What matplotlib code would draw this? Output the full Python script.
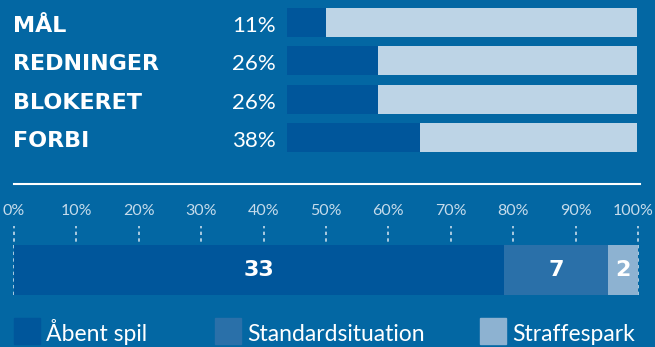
import matplotlib
matplotlib.use("Agg")
import matplotlib.pyplot as plt
import matplotlib.transforms as mtransforms
from matplotlib.patches import Rectangle

# Shot outcomes (share of shots, %)
outcomes = ["MÅL", "REDNINGER", "BLOKERET", "FORBI"]
outcome_pct = [11, 26, 26, 38]

# Goals by situation type
situations = ["Åbent spil", "Standardsituation", "Straffespark"]
situation_counts = [33, 7, 2]
axis_ticks = [0, 10, 20, 30, 40, 50, 60, 70, 80, 90, 100]

BG = "#0367a3"
DARK = "#00569b"
LIGHT = "#bdd4e6"
MID = "#2a70a9"
PALE = "#8db2d1"
TICK_TXT = "#c5dbeb"

W, H = 655, 347
fig = plt.figure(figsize=(W / 100, H / 100), dpi=100, facecolor=BG)


def fig_rect(x0, y0, x1, y1):
    """Pixel box (top-left origin) -> figure fraction rect."""
    return [x0 / W, 1 - y1 / H, (x1 - x0) / W, (y1 - y0) / H]


# ---- top: outcome bars ----
ax1 = fig.add_axes(fig_rect(287, 8, 637, 152))
ax1.set_facecolor("none")
ypos = list(range(len(outcomes)))
ax1.barh(ypos, [100] * len(outcomes), height=0.755, color=LIGHT, edgecolor="none")
ax1.barh(ypos, outcome_pct, height=0.755, color=DARK, edgecolor="none")
ax1.set_xlim(0, 100)
ax1.set_ylim(3.3775, -0.3775)
ax1.axis("off")

# labels sit on a baseline slightly below each bar's centre
blend = mtransforms.blended_transform_factory(fig.transFigure, ax1.transData)
for y, name, pct in zip(ypos, outcomes, outcome_pct):
    ax1.text(13 / W, y + 0.25, name, transform=blend, ha="left", va="baseline",
             color="white", fontsize=16, fontweight="bold",
             family=["DejaVu Sans"])
    ax1.text(276 / W, y + 0.25, f"{pct}%", transform=blend, ha="right", va="baseline",
             color="white", fontsize=16, fontweight="normal",
             family=["Lato", "DejaVu Sans"])

# separator line
fig.add_artist(plt.Line2D([14 / W, 640 / W], [1 - 184 / H, 1 - 184 / H],
                          transform=fig.transFigure, color="white", lw=1.5))

# ---- bottom: stacked share bar ----
ax2 = fig.add_axes(fig_rect(14, 226, 638, 295))
ax2.set_facecolor("none")
total = sum(situation_counts)
shares = [c / total * 100 for c in situation_counts]
colors = [DARK, MID, PALE]
ax2.set_xlim(0, 100)
ax2.set_ylim(0, 1.38)
for t in axis_ticks:
    ax2.plot([t, t], [0, 1.38], color=TICK_TXT, lw=1.2, ls=(0, (2, 2)),
             zorder=1, clip_on=False)
left = 0
for share, count, col in zip(shares, situation_counts, colors):
    ax2.barh(0.5, share, left=left, height=1.0, color=col, edgecolor="none", zorder=2)
    ax2.text(left + share / 2, 0.5, str(count), ha="center", va="center",
             color="white", fontsize=16, fontweight="bold",
             family=["DejaVu Sans"], zorder=3)
    left += share
ax2.axis("off")

tick_blend = mtransforms.blended_transform_factory(ax2.transData, fig.transFigure)
for t in axis_ticks:
    ha = "center" if t < 100 else "right"
    xpos = t if t < 100 else 100 + 16 / 624 * 100
    ax2.text(xpos, 1 - 211 / H, f"{t}%", transform=tick_blend, ha=ha, va="center",
             color=TICK_TXT, fontsize=11.5, family=["Lato", "DejaVu Sans"],
             clip_on=False)

# ---- legend ----
legend_x = [14, 215, 480]
for x, name, col in zip(legend_x, situations, colors):
    fig.add_artist(Rectangle((x / W, 1 - 344 / H), 26 / W, 26 / H,
                             transform=fig.transFigure, color=col))
    fig.text((x + 32) / W, 1 - 341 / H, name, ha="left", va="baseline",
             color="white", fontsize=16.5, family=["Lato", "DejaVu Sans"])

fig.savefig("out.png", dpi=100, facecolor=BG)
